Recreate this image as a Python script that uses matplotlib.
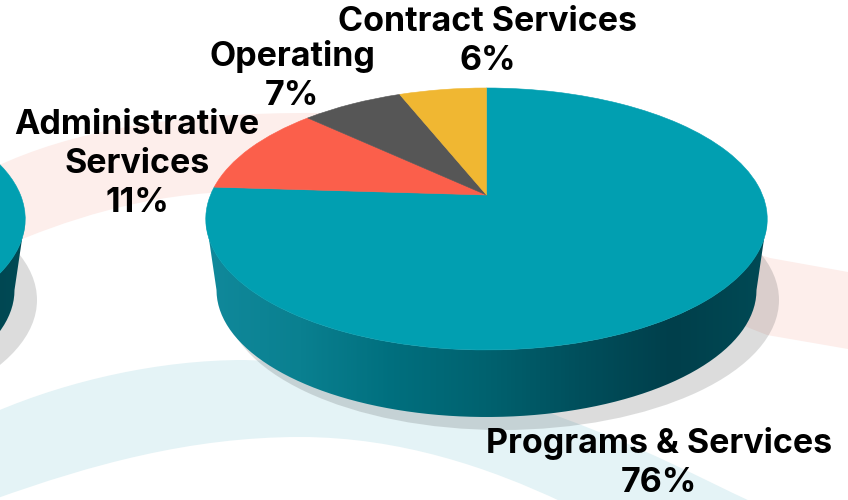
import numpy as np
import matplotlib
matplotlib.use('Agg')
import matplotlib.pyplot as plt
from matplotlib.colors import LinearSegmentedColormap
from matplotlib.patches import Ellipse, PathPatch, Polygon
from matplotlib.path import Path
from matplotlib.transforms import Transform

plt.rcParams['font.family'] = ['Inter', 'DejaVu Sans']

categories = ['Programs & Services', 'Administrative\nServices', 'Operating', 'Contract Services']
shares = [76, 11, 7, 6]
slice_colors = ['#019fb1', '#fb5f4b', '#565656', '#f0b732']

# centre x and first baseline of each label
label_x = [659, 137, 292, 488]
label_y = [453, 134, 66, 31]
line_step = 39

wall_colors = ['#10899b', '#0a8090', '#006f7e', '#00626f', '#004f5c', '#003f4b', '#004a55']


class Tilt(Transform):
    # unit circle -> tilted disc, the apex sits above the middle of the ellipse
    input_dims = 2
    output_dims = 2

    def __init__(self, dx=0):
        super().__init__()
        self.dx = dx

    def transform_non_affine(self, xy):
        xy = np.asarray(xy)
        d = 1 + 0.183 * xy[:, 1]
        return np.column_stack((486.5 + self.dx + 276 * xy[:, 0] / d, 195 - 126.6 * xy[:, 1] / d))


def draw_pie(ax, values, colors, dx=0):
    ax.add_patch(Ellipse((502 + dx, 300), 554, 260, fc='#303535', ec='none', alpha=0.17, zorder=2))

    # side wall, gradient clipped to the outline
    t = np.linspace(np.pi, 2 * np.pi, 80)
    lower = np.column_stack((486.5 + dx + 270 * np.cos(t), 290 - 127 * np.sin(t)))
    upper = np.column_stack((486.5 + dx + 280.5 * np.cos(t[::-1]), 219 - 131 * np.sin(t[::-1])))
    outline = Polygon(np.vstack((lower, upper)), closed=True, transform=ax.transData)
    cmap = LinearSegmentedColormap.from_list('wall', wall_colors)
    grad = ax.imshow(np.linspace(0, 1, 300)[None, :], cmap=cmap, aspect='auto',
                     extent=(206 + dx, 767 + dx, 420, 210), zorder=3)
    grad.set_clip_path(outline)

    wedges, _ = ax.pie(values, colors=colors, startangle=90, counterclock=False)
    for w, c in zip(wedges, colors):
        w.set_transform(Tilt(dx) + ax.transData)
        w.set_edgecolor(c)
        w.set_linewidth(0.4)
        w.set_zorder(4)


def band(ax, verts, codes, color):
    ax.add_patch(PathPatch(Path(verts, codes), fc=color, ec='none', zorder=1))


fig = plt.figure(figsize=(8.48, 5), dpi=100)
ax = fig.add_axes([0, 0, 1, 1])

M, C, L, Z = Path.MOVETO, Path.CURVE4, Path.LINETO, Path.CLOSEPOLY

# pink swoosh behind the pie
band(ax, [(-5, 167), (70, 132), (170, 112), (320, 113), (770, 258), (848, 272), (848, 349), (767, 335),
          (400, 190), (210, 193), (110, 200), (30, 236), (-5, 250), (-5, 167)],
     [M, C, C, C, L, L, L, L, L, L, C, C, C, Z], '#fdeeeb')
# blue swoosh
band(ax, [(-5, 412), (70, 380), (160, 360), (244, 360), (400, 365), (500, 390), (560, 417),
          (650, 450), (700, 478), (752, 502), (562, 502), (490, 468), (400, 437), (300, 437),
          (190, 437), (90, 465), (-5, 499), (-5, 412)],
     [M, C, C, C, C, C, C, C, C, C, L, C, C, C, C, C, C, Z], '#e4f3f6')

draw_pie(ax, [100], [slice_colors[0]], dx=-742)
draw_pie(ax, shares, slice_colors)

ax.set_xlim(0, 848)
ax.set_ylim(500, 0)
ax.set_aspect('auto')
ax.axis('off')

for name, share, x, y in zip(categories, shares, label_x, label_y):
    lines = name.split('\n') + [f'{share}%']
    for i, line in enumerate(lines):
        ax.text(x, y + i * line_step, line, ha='center', va='baseline',
                fontsize=24.5, fontweight='bold', color='black', zorder=5)

fig.savefig('out.png', dpi=100)
